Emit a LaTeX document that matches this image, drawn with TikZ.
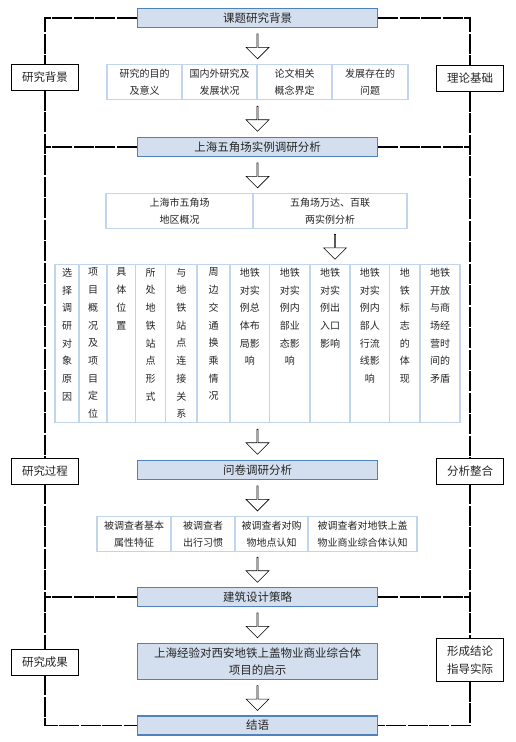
\documentclass[tikz,border=0pt]{standalone}
\usepackage{fontspec}
\setmainfont{Noto Sans CJK SC}
\usetikzlibrary{shapes.arrows,calc}
\definecolor{boxfill}{RGB}{211,223,238}
\definecolor{boxline}{RGB}{79,129,189}
\definecolor{cellline}{RGB}{195,213,237}

\begin{document}
\begin{tikzpicture}[x=1pt,y=-1pt,
  every node/.style={text=black!85},
  mainbox/.style={draw=boxline,fill=boxfill,line width=1.5pt,minimum width=240pt,minimum height=19pt,inner sep=0pt,align=center,font=\fontsize{11.5}{17}\selectfont},
  cell/.style={draw=cellline,fill=white,line width=1.4pt,minimum height=35pt,inner sep=0pt,align=center,font=\fontsize{10}{16.7}\selectfont},
  coltext/.style={inner sep=0pt,align=center,font=\fontsize{10}{17.7}\selectfont},
  sidebox/.style={draw=black,fill=white,line width=0.8pt,minimum width=67pt,minimum height=26pt,inner sep=0pt,align=center,font=\fontsize{11.5}{17.3}\selectfont},
  blockarrow/.style={single arrow,draw=black,fill=white,line width=0.6pt,shape border rotate=270,minimum height=25pt,minimum width=23pt,single arrow head extend=5.5pt,inner sep=0pt},
  frame/.style={line width=1.1pt,dash pattern=on 20pt off 1.5pt}]
\useasboundingbox (0,0) rectangle (516,742);

% main steps
\node[mainbox] (top) at (257.5,18) {课题研究背景};
\node[mainbox] (case) at (257.5,147) {上海五角场实例调研分析};
\node[mainbox] (survey) at (257.5,470) {问卷调研分析};
\node[mainbox] (strategy) at (257.5,597) {建筑设计策略};
\node[mainbox,minimum height=36pt] (insight) at (257.5,661.5) {上海经验对西安地铁上盖物业商业综合体\\项目的启示};
\node[mainbox] (ending) at (257.5,725.5) {结语};

% rows of cells
\foreach \xa/\xb/\txt [count=\i] in {107/182/{研究的目的\\及意义},182/257/{国内外研究及\\发展状况},257/332/{论文相关\\概念界定},332/408/{发展存在的\\问题}}
  \node[cell,minimum width={(\xb-\xa)*1pt}] (r1-\i) at ({(\xa+\xb)/2},82) {\txt};

\foreach \xa/\xb/\txt [count=\i] in {106/253/{上海市五角场\\地区概况},253/407/{五角场万达、百联\\两实例分析}}
  \node[cell,minimum width={(\xb-\xa)*1pt}] (r2-\i) at ({(\xa+\xb)/2},211) {\txt};

\foreach \xa/\xb/\txt [count=\i] in {55/79/{选\\择\\调\\研\\对\\象\\原\\因},79/107/{项\\目\\概\\况\\及\\项\\目\\定\\位},107/135.5/{具\\体\\位\\置},135.5/165.5/{所\\处\\地\\铁\\站\\点\\形\\式},165.5/197/{与\\地\\铁\\站\\点\\连\\接\\关\\系},197/230/{周\\边\\交\\通\\换\\乘\\情\\况},230/269.5/{地铁\\对实\\例总\\体布\\局影\\响},269.5/310/{地铁\\对实\\例内\\部业\\态影\\响},310/350/{地铁\\对实\\例出\\入口\\影响},350/389.5/{地铁\\对实\\例内\\部人\\行流\\线影\\响},389.5/420/{地\\铁\\标\\志\\的\\体\\现},420/460/{地铁\\开放\\与商\\场经\\营时\\间的\\矛盾}} {
  \node[cell,minimum width={(\xb-\xa)*1pt},minimum height=158pt] (c\i) at ({(\xa+\xb)/2},343.5) {};
  \node[coltext,anchor=north] (t\i) at ([yshift=-4pt]c\i.north) {\txt};
}

\foreach \xa/\xb/\txt [count=\i] in {97/171/{被调查者基本\\属性特征},171/235/{被调查者\\出行习惯},235/308/{被调查者对购\\物地点认知},308/417/{被调查者对地铁上盖\\物业商业综合体认知}}
  \node[cell,minimum width={(\xb-\xa)*1pt}] (r4-\i) at ({(\xa+\xb)/2},534) {\txt};

% side labels
\node[sidebox] (bg) at (45,77.5) {研究背景};
\node[sidebox] (theory) at (470,78.5) {理论基础};
\node[sidebox] (process) at (45,471) {研究过程};
\node[sidebox] (integrate) at (470,471) {分析整合};
\node[sidebox] (result) at (45,662) {研究成果};
\node[sidebox,minimum height=43pt] (conclude) at (470,660) {形成结论\\指导实际};

% block arrows
\node[blockarrow] (a1) at ($(top.south)!0.5!(top.south |- r1-1.north)$) {};
\node[blockarrow] (a2) at ($(case.north)!0.5!(case.north |- r1-1.south)$) {};
\node[blockarrow] (a3) at ($(case.south)!0.5!(case.south |- r2-1.north)$) {};
\node[blockarrow] (a4) at ($(r2-2.south)!0.5!(r2-2.south |- c1.north)+(5,0)$) {};
\node[blockarrow] (a5) at ($(survey.north)!0.5!(survey.north |- c1.south)$) {};
\node[blockarrow] (a6) at ($(survey.south)!0.5!(survey.south |- r4-1.north)$) {};
\node[blockarrow] (a7) at ($(strategy.north)!0.5!(strategy.north |- r4-1.south)$) {};
\node[blockarrow] (a8) at ($(strategy.south)!0.5!(insight.north)$) {};
\node[blockarrow] (a9) at ($(insight.south)!0.5!(ending.north)$) {};

% frame
\draw[frame] (top.west) -| (bg.north);
\draw[frame] (bg.south) -- (process.north);
\draw[frame] (case.west) -- (case.west -| bg.south);
\draw[frame] (process.south) -- (result.north);
\draw[frame] (strategy.west) -- (strategy.west -| process.south);
\draw[frame] (result.south) |- (ending.west);
\draw[frame] (top.east) -| (theory.north);
\draw[frame] (theory.south) -- (integrate.north);
\draw[frame] (case.east) -- (case.east -| theory.south);
\draw[frame] (integrate.south) -- (conclude.north);
\draw[frame] (strategy.east) -- (strategy.east -| integrate.south);
\draw[frame] (conclude.south) |- (ending.east);
\end{tikzpicture}
\end{document}
